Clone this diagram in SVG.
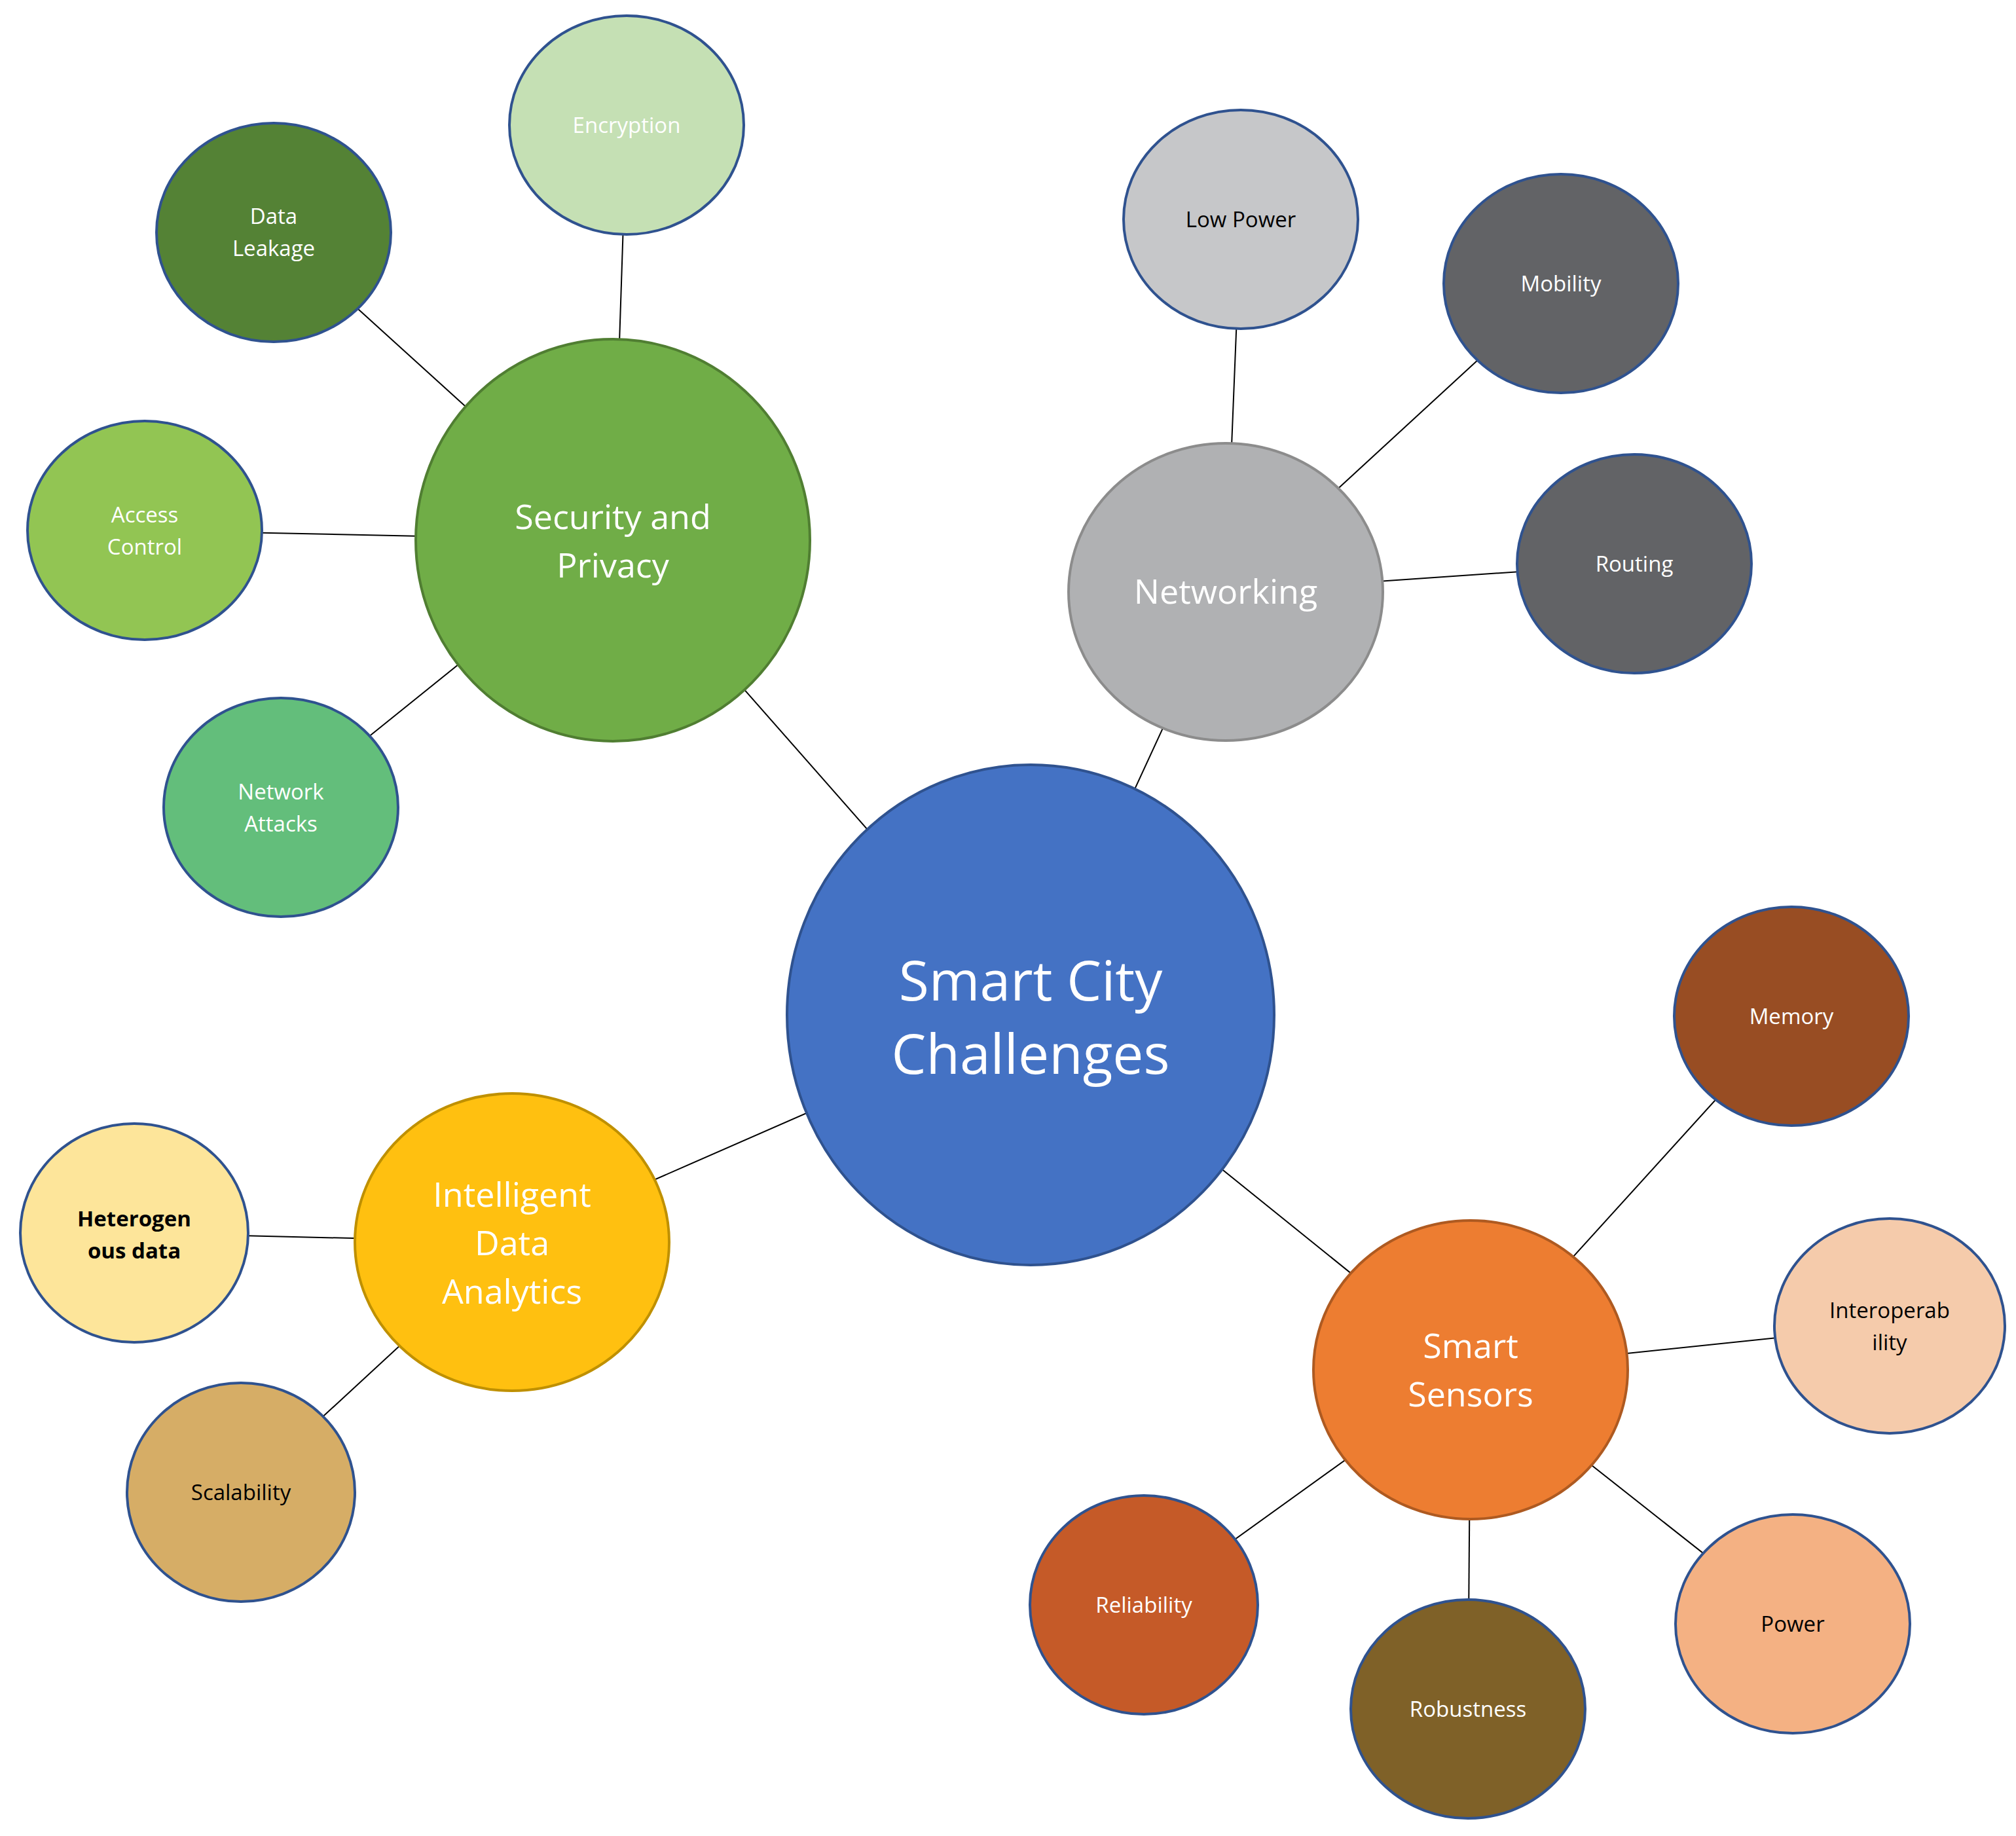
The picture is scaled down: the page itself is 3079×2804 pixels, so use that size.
<svg xmlns="http://www.w3.org/2000/svg" width="3079" height="2804" viewBox="0 0 3079 2804">
<style>
.n{stroke:#2F528F;stroke-width:4}
.l{stroke:#000;stroke-width:2}
text{font-family:"Open Sans","Liberation Sans",sans-serif;text-anchor:middle;fill:#fff}
.c{font-size:84px}.p{font-size:52px}.s{font-size:33px}.k{fill:#000}
</style>
<rect width="3079" height="2804" fill="#fff"/>
<g id="connectors">
<line class="l" x1="1574" y1="1550" x2="936" y2="825"/>
<line class="l" x1="1574" y1="1550" x2="1872" y2="904"/>
<line class="l" x1="1574" y1="1550" x2="782" y2="1897"/>
<line class="l" x1="1574" y1="1550" x2="2246" y2="2092"/>
<line class="l" x1="936" y1="825" x2="957" y2="191"/>
<line class="l" x1="936" y1="825" x2="418" y2="355"/>
<line class="l" x1="936" y1="825" x2="221" y2="810"/>
<line class="l" x1="936" y1="825" x2="429" y2="1233"/>
<line class="l" x1="1872" y1="904" x2="1895" y2="335"/>
<line class="l" x1="1872" y1="904" x2="2384" y2="433"/>
<line class="l" x1="1872" y1="904" x2="2496" y2="861"/>
<line class="l" x1="782" y1="1897" x2="205" y2="1883"/>
<line class="l" x1="782" y1="1897" x2="368" y2="2279"/>
<line class="l" x1="2246" y1="2092" x2="2736" y2="1552"/>
<line class="l" x1="2246" y1="2092" x2="2886" y2="2025"/>
<line class="l" x1="2246" y1="2092" x2="2738" y2="2480"/>
<line class="l" x1="2246" y1="2092" x2="2242" y2="2610"/>
<line class="l" x1="2246" y1="2092" x2="1747" y2="2451"/>
</g>
<g id="center"><ellipse class="n" cx="1574" cy="1550" rx="372" ry="382" fill="#4472C4"/><text class="c" x="1574" y="1528">Smart City</text><text class="c" x="1574" y="1640">Challenges</text></g>
<g id="security"><ellipse cx="936" cy="825" rx="301" ry="307" fill="#70AD47" stroke="#507E32" stroke-width="4"/><text class="p" x="936" y="808">Security and</text><text class="p" x="936" y="882">Privacy</text></g>
<g id="encryption"><ellipse class="n" cx="957" cy="191" rx="179" ry="167" fill="#C5E0B4"/><text class="s" x="957" y="203">Encryption</text></g>
<g id="leakage"><ellipse class="n" cx="418" cy="355" rx="179" ry="167" fill="#548235"/><text class="s" x="418" y="342">Data</text><text class="s" x="418" y="391">Leakage</text></g>
<g id="access"><ellipse class="n" cx="221" cy="810" rx="179" ry="167" fill="#92C553"/><text class="s" x="221" y="798">Access</text><text class="s" x="221" y="847">Control</text></g>
<g id="attacks"><ellipse class="n" cx="429" cy="1233" rx="179" ry="167" fill="#63BE7B"/><text class="s" x="429" y="1221">Network</text><text class="s" x="429" y="1270">Attacks</text></g>
<g id="networking"><ellipse cx="1872" cy="904" rx="240" ry="227" fill="#B0B1B3" stroke="#8C8C8C" stroke-width="4"/><text class="p" x="1872" y="922">Networking</text></g>
<g id="lowpower"><ellipse class="n" cx="1895" cy="335" rx="179" ry="167" fill="#C6C7C9"/><text class="s k" x="1895" y="347">Low Power</text></g>
<g id="mobility"><ellipse class="n" cx="2384" cy="433" rx="179" ry="167" fill="#626366"/><text class="s" x="2384" y="445">Mobility</text></g>
<g id="routing"><ellipse class="n" cx="2496" cy="861" rx="179" ry="167" fill="#626366"/><text class="s" x="2496" y="873">Routing</text></g>
<g id="analytics"><ellipse cx="782" cy="1897" rx="240" ry="227" fill="#FFC010" stroke="#BF9000" stroke-width="4"/><text class="p" x="782" y="1843">Intelligent</text><text class="p" x="782" y="1917">Data</text><text class="p" x="782" y="1991">Analytics</text></g>
<g id="hetero"><ellipse class="n" cx="205" cy="1883" rx="174" ry="167" fill="#FDE59A"/><text class="s k" x="205" y="1873" font-weight="bold">Heterogen</text><text class="s k" x="205" y="1922" font-weight="bold">ous data</text></g>
<g id="scalability"><ellipse class="n" cx="368" cy="2279" rx="174" ry="167" fill="#D6AD66"/><text class="s k" x="368" y="2291">Scalability</text></g>
<g id="sensors"><ellipse cx="2246" cy="2092" rx="240" ry="228" fill="#ED7D31" stroke="#AE5A21" stroke-width="4"/><text class="p" x="2246" y="2074">Smart</text><text class="p" x="2246" y="2148">Sensors</text></g>
<g id="memory"><ellipse class="n" cx="2736" cy="1552" rx="179" ry="167" fill="#984D23"/><text class="s" x="2736" y="1564">Memory</text></g>
<g id="interop"><ellipse class="n" cx="2886" cy="2025" rx="176" ry="164" fill="#F5CBAB"/><text class="s k" x="2886" y="2013">Interoperab</text><text class="s k" x="2886" y="2062">ility</text></g>
<g id="power"><ellipse class="n" cx="2738" cy="2480" rx="179" ry="167" fill="#F4B183"/><text class="s k" x="2738" y="2492">Power</text></g>
<g id="robustness"><ellipse class="n" cx="2242" cy="2610" rx="179" ry="167" fill="#7F6128"/><text class="s" x="2242" y="2622">Robustness</text></g>
<g id="reliability"><ellipse class="n" cx="1747" cy="2451" rx="174" ry="167" fill="#C55A28"/><text class="s" x="1747" y="2463">Reliability</text></g>
</svg>
